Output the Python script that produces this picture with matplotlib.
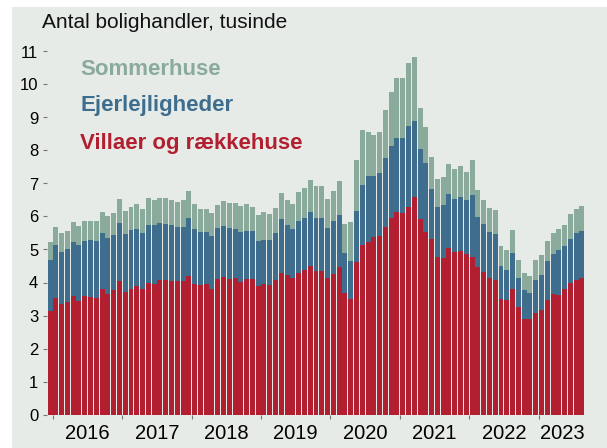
import matplotlib
matplotlib.use("Agg")
import matplotlib.pyplot as plt
from matplotlib.patches import Rectangle
import numpy as np

plt.rcParams['font.family'] = ['Liberation Sans', 'DejaVu Sans']

# monthly, Dec 2015 - Aug 2023, thousands of trades
villaer = [3.14, 3.52, 3.36, 3.42, 3.60, 3.43, 3.58, 3.57, 3.54, 3.80, 3.66, 3.76,
           4.04, 3.72, 3.80, 3.88, 3.79, 3.97, 3.96, 4.08, 4.09, 4.04, 4.04, 4.06,
           4.21, 3.96, 3.92, 3.96, 3.79, 4.12, 4.18, 4.10, 4.13, 4.02, 4.10, 4.11,
           3.89, 3.95, 3.92, 4.08, 4.28, 4.23, 4.13, 4.30, 4.38, 4.51, 4.36, 4.36,
           4.13, 4.26, 4.46, 3.67, 3.49, 4.63, 5.15, 5.24, 5.39, 5.41, 5.67, 5.96,
           6.13, 6.10, 6.30, 6.59, 5.93, 5.54, 5.31, 4.76, 4.73, 5.05, 4.93, 4.95,
           4.85, 4.77, 4.46, 4.33, 4.15, 4.09, 3.50, 3.47, 3.79, 3.25, 2.88, 2.89,
           3.08, 3.18, 3.47, 3.66, 3.62, 3.79, 3.99, 4.08, 4.15]
ejerlejl = [1.54, 1.62, 1.56, 1.59, 1.63, 1.71, 1.67, 1.71, 1.71, 1.70, 1.68, 1.69,
            1.77, 1.76, 1.79, 1.75, 1.72, 1.77, 1.78, 1.71, 1.69, 1.71, 1.65, 1.63,
            1.74, 1.67, 1.61, 1.57, 1.61, 1.54, 1.53, 1.54, 1.49, 1.52, 1.47, 1.45,
            1.37, 1.34, 1.37, 1.43, 1.63, 1.51, 1.48, 1.56, 1.56, 1.64, 1.60, 1.58,
            1.53, 1.60, 1.59, 1.21, 1.17, 1.55, 1.79, 1.99, 1.84, 1.92, 2.11, 2.18,
            2.24, 2.29, 2.45, 2.30, 2.13, 2.09, 1.52, 1.54, 1.61, 1.62, 1.60, 1.64,
            1.64, 1.88, 1.51, 1.43, 1.39, 1.39, 0.99, 0.91, 1.09, 0.89, 0.89, 0.78,
            1.01, 1.05, 1.17, 1.19, 1.36, 1.33, 1.34, 1.41, 1.41]
sommerhuse = [0.56, 0.55, 0.57, 0.56, 0.59, 0.57, 0.62, 0.57, 0.60, 0.63, 0.67, 0.66,
              0.72, 0.68, 0.70, 0.75, 0.73, 0.81, 0.76, 0.78, 0.77, 0.75, 0.76, 0.80,
              0.83, 0.75, 0.71, 0.71, 0.70, 0.69, 0.75, 0.78, 0.78, 0.79, 0.80, 0.74,
              0.79, 0.86, 0.79, 0.76, 0.81, 0.76, 0.76, 0.89, 0.92, 0.96, 0.97, 0.99,
              0.88, 0.92, 1.02, 0.90, 1.18, 1.52, 1.69, 1.32, 1.25, 1.23, 1.46, 1.62,
              1.84, 1.82, 1.91, 1.94, 1.24, 1.07, 0.97, 0.84, 0.85, 0.91, 0.90, 0.93,
              0.85, 1.05, 0.83, 0.74, 0.72, 0.71, 0.62, 0.60, 0.70, 0.54, 0.52, 0.53,
              0.58, 0.59, 0.61, 0.65, 0.64, 0.63, 0.74, 0.74, 0.76]
years = ['2016', '2017', '2018', '2019', '2020', '2021', '2022', '2023']

red = '#b21f30'
blue = '#3e6d8d'
sage = '#8aab9b'
bg = '#e6ebe8'

fig = plt.figure(figsize=(6.07, 4.48), dpi=100)
fig.patches.append(Rectangle((12 / 607, 0), 1, 1 - 7 / 448, transform=fig.transFigure,
                             facecolor=bg, edgecolor='none', zorder=-5))

ax = fig.add_axes([46.6 / 607, 1 - 414.5 / 448, 538.8 / 607, 379.5 / 448])
ax.set_facecolor('none')

x = np.arange(len(villaer))
v = np.array(villaer)
e = np.array(ejerlejl)
s = np.array(sommerhuse)
w = 0.86
ax.bar(x, v, width=w, color=red, linewidth=0)
ax.bar(x, e, width=w, bottom=v, color=blue, linewidth=0)
ax.bar(x, s, width=w, bottom=v + e, color=sage, linewidth=0)

ax.set_xlim(-0.6, len(x) - 1 + 0.6)
ax.set_ylim(0, 11.5)
for sp in ax.spines.values():
    sp.set_visible(False)

ax.set_yticks(range(12))
ax.tick_params(axis='y', length=3, width=0.8, color='#777777', pad=3, labelsize=12)

starts = [0.5 + 12 * k for k in range(len(years))]
ax.set_xticks(starts)
ax.set_xticklabels([])
ax.tick_params(axis='x', which='major', length=3, width=0.8, color='#777777')
ends = starts[1:] + [ax.get_xlim()[1]]
ax.set_xticks([(a + b) / 2 for a, b in zip(starts, ends)], minor=True)
ax.set_xticklabels(years, minor=True, fontsize=14.5)
ax.tick_params(axis='x', which='minor', length=0, pad=7)

fig.text(42 / 607, 1 - 23 / 448, 'Antal bolighandler, tusinde', fontsize=15,
         va='center', ha='left', color='#111111')
fig.text(80 / 607, 1 - 69 / 448, 'Sommerhuse', fontsize=16, fontweight='bold',
         color=sage, va='center')
fig.text(80 / 607, 1 - 105 / 448, 'Ejerlejligheder', fontsize=16, fontweight='bold',
         color=blue, va='center')
fig.text(80 / 607, 1 - 143 / 448, 'Villaer og rækkehuse', fontsize=16, fontweight='bold',
         color=red, va='center')

fig.savefig('out.png', dpi=100)
